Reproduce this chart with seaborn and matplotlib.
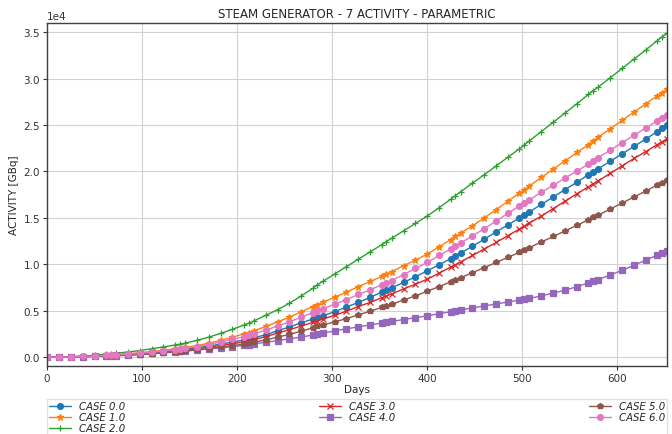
import numpy as np
import pandas as pd
import matplotlib
matplotlib.use("Agg")
import matplotlib.pyplot as plt
import seaborn as sns

days = [0,
        12.5, 25, 37.5, 50, 62, 67, 72.5,
        85, 97.5, 110, 122.5, 134.5, 139.5, 145,
        157.5, 170, 182.5, 195, 207, 212, 217.5,
        230, 242.5, 255, 267.5, 279.5, 284.5, 290,
        302.5, 315, 327.5, 340, 352, 357, 362.5,
        375, 387.5, 400, 412.5, 424.5, 429.5, 435,
        447.5, 460, 472.5, 485, 497, 502, 507.5,
        520, 532.5, 545, 557.5, 569.5, 574.5, 580,
        592.5, 605, 617.5, 630, 642, 647, 652.5]

# activity values, in units of 1e4 GBq
case0 = [0,
         0.001, 0.003, 0.006, 0.01, 0.015, 0.017, 0.02,
         0.027, 0.038, 0.048, 0.06, 0.072, 0.078, 0.084,
         0.10, 0.12, 0.14, 0.162, 0.185, 0.196, 0.21,
         0.24, 0.285, 0.325, 0.37, 0.41, 0.43, 0.445,
         0.49, 0.54, 0.59, 0.645, 0.70, 0.72, 0.745,
         0.805, 0.865, 0.93, 0.995, 1.06, 1.09, 1.12,
         1.195, 1.27, 1.35, 1.425, 1.50, 1.53, 1.565,
         1.645, 1.725, 1.805, 1.885, 1.965, 1.995, 2.03,
         2.11, 2.19, 2.27, 2.35, 2.43, 2.465, 2.50]
case1 = [0,
         0.001, 0.004, 0.009, 0.015, 0.021, 0.024, 0.028,
         0.037, 0.048, 0.06, 0.075, 0.09, 0.097, 0.104,
         0.125, 0.15, 0.18, 0.215, 0.25, 0.265, 0.285,
         0.33, 0.38, 0.43, 0.49, 0.545, 0.565, 0.59,
         0.645, 0.70, 0.76, 0.815, 0.87, 0.895, 0.92,
         0.985, 1.045, 1.11, 1.19, 1.265, 1.30, 1.335,
         1.415, 1.50, 1.59, 1.68, 1.77, 1.80, 1.845,
         1.935, 2.025, 2.115, 2.205, 2.29, 2.33, 2.37,
         2.46, 2.55, 2.64, 2.73, 2.815, 2.85, 2.89]
case2 = [0,
         0.002, 0.006, 0.012, 0.02, 0.03, 0.036, 0.042,
         0.055, 0.071, 0.09, 0.11, 0.13, 0.14, 0.15,
         0.18, 0.215, 0.255, 0.30, 0.345, 0.365, 0.39,
         0.45, 0.51, 0.58, 0.66, 0.74, 0.78, 0.815,
         0.895, 0.975, 1.055, 1.135, 1.21, 1.245, 1.28,
         1.36, 1.44, 1.52, 1.61, 1.70, 1.74, 1.78,
         1.875, 1.965, 2.06, 2.155, 2.245, 2.285, 2.33,
         2.43, 2.53, 2.63, 2.73, 2.83, 2.87, 2.91,
         3.01, 3.11, 3.21, 3.31, 3.41, 3.45, 3.49]
case3 = [0,
         0.001, 0.003, 0.006, 0.01, 0.014, 0.016, 0.018,
         0.024, 0.033, 0.042, 0.053, 0.064, 0.069, 0.075,
         0.09, 0.107, 0.125, 0.143, 0.165, 0.175, 0.19,
         0.22, 0.26, 0.295, 0.335, 0.375, 0.39, 0.41,
         0.45, 0.495, 0.545, 0.59, 0.64, 0.66, 0.68,
         0.735, 0.785, 0.84, 0.905, 0.97, 0.995, 1.025,
         1.095, 1.165, 1.235, 1.31, 1.38, 1.41, 1.445,
         1.52, 1.60, 1.68, 1.76, 1.835, 1.865, 1.90,
         1.98, 2.06, 2.14, 2.215, 2.29, 2.32, 2.35]
case4 = [0,
         0.001, 0.003, 0.005, 0.008, 0.012, 0.014, 0.017,
         0.024, 0.033, 0.041, 0.05, 0.059, 0.063, 0.067,
         0.077, 0.088, 0.10, 0.113, 0.128, 0.135, 0.143,
         0.16, 0.178, 0.197, 0.217, 0.238, 0.247, 0.258,
         0.283, 0.305, 0.326, 0.347, 0.367, 0.375, 0.384,
         0.405, 0.425, 0.445, 0.467, 0.489, 0.498, 0.508,
         0.53, 0.552, 0.573, 0.594, 0.614, 0.623, 0.633,
         0.66, 0.69, 0.72, 0.76, 0.80, 0.817, 0.835,
         0.885, 0.935, 0.99, 1.045, 1.10, 1.12, 1.145]
case5 = [0,
         0.001, 0.002, 0.005, 0.008, 0.011, 0.013, 0.015,
         0.02, 0.028, 0.036, 0.046, 0.056, 0.06, 0.065,
         0.078, 0.092, 0.108, 0.124, 0.14, 0.148, 0.16,
         0.185, 0.215, 0.245, 0.28, 0.315, 0.33, 0.345,
         0.38, 0.415, 0.455, 0.495, 0.535, 0.55, 0.57,
         0.615, 0.66, 0.71, 0.76, 0.81, 0.83, 0.855,
         0.91, 0.965, 1.02, 1.075, 1.13, 1.155, 1.18,
         1.24, 1.30, 1.36, 1.42, 1.48, 1.505, 1.53,
         1.595, 1.66, 1.725, 1.79, 1.855, 1.88, 1.91]
case6 = [0,
         0.001, 0.003, 0.007, 0.012, 0.018, 0.021, 0.024,
         0.032, 0.043, 0.055, 0.068, 0.082, 0.088, 0.094,
         0.113, 0.135, 0.162, 0.19, 0.22, 0.235, 0.25,
         0.29, 0.335, 0.38, 0.43, 0.48, 0.50, 0.52,
         0.57, 0.62, 0.675, 0.725, 0.78, 0.80, 0.825,
         0.89, 0.955, 1.02, 1.095, 1.165, 1.195, 1.23,
         1.305, 1.385, 1.465, 1.55, 1.63, 1.66, 1.695,
         1.775, 1.85, 1.93, 2.005, 2.08, 2.115, 2.15,
         2.23, 2.31, 2.39, 2.47, 2.545, 2.575, 2.61]

labels = ["CASE 0.0", "CASE 1.0", "CASE 2.0", "CASE 3.0",
          "CASE 4.0", "CASE 5.0", "CASE 6.0"]
series = [case0, case1, case2, case3, case4, case5, case6]

title = "STEAM GENERATOR - 7 ACTIVITY - PARAMETRIC"

sns.set_style("whitegrid", {
    "axes.edgecolor": "0.25",
    "grid.color": "0.82",
    "xtick.bottom": True,
    "ytick.left": True,
})
plt.rcParams["font.family"] = ["DejaVu Sans"]
plt.rcParams["xtick.major.size"] = 3
plt.rcParams["ytick.major.size"] = 3
plt.rcParams["xtick.color"] = "0.2"
plt.rcParams["ytick.color"] = "0.2"

pal = sns.color_palette("tab10")
colors = [pal[0], pal[1], pal[2], pal[3], pal[4], pal[5], pal[6]]
markers = ["o", "*", "+", "x", "s", "p", "o"]
msizes = [4.2, 4.5, 4.5, 4, 3.8, 4, 4.2]

fig = plt.figure(figsize=(6.72, 4.35), dpi=100)
ax = fig.add_axes([0.070, 0.156, 0.923, 0.789])

for vals, lab, c, m, ms in zip(series, labels, colors, markers, msizes):
    df = pd.DataFrame({"Days": days, "val": np.array(vals) * 1e4})
    sns.lineplot(data=df, x="Days", y="val", ax=ax, color=c, marker=m,
                 markersize=ms, markeredgecolor=c, markeredgewidth=0.9,
                 linewidth=1.0, label=lab)

ax.set_xlim(0, 652.5)
ax.set_ylim(-970, 36000)
ax.set_xticks([0, 100, 200, 300, 400, 500, 600])
ax.set_yticks([0, 5000, 10000, 15000, 20000, 25000, 30000, 35000])
ax.ticklabel_format(axis="y", style="sci", scilimits=(0, 0))
ax.yaxis.get_offset_text().set_fontsize(7.5)
ax.tick_params(labelsize=7.5, pad=2)
ax.set_xlabel("Days", fontsize=7.5, labelpad=1)
ax.set_ylabel("ACTIVITY [GBq]", fontsize=7.5, labelpad=3)
ax.set_title(title, fontsize=8.5, pad=4)
for s in ax.spines.values():
    s.set_linewidth(1.0)

ax.legend(loc="upper left", bbox_to_anchor=(0, -0.096, 1, 0), mode="expand",
          ncol=3, prop={"style": "italic", "size": 7.3}, labelspacing=0.1,
          borderaxespad=0, handlelength=2.2, frameon=True, fancybox=False,
          edgecolor="0.85", borderpad=0.2)

fig.savefig("out.png", dpi=100)
